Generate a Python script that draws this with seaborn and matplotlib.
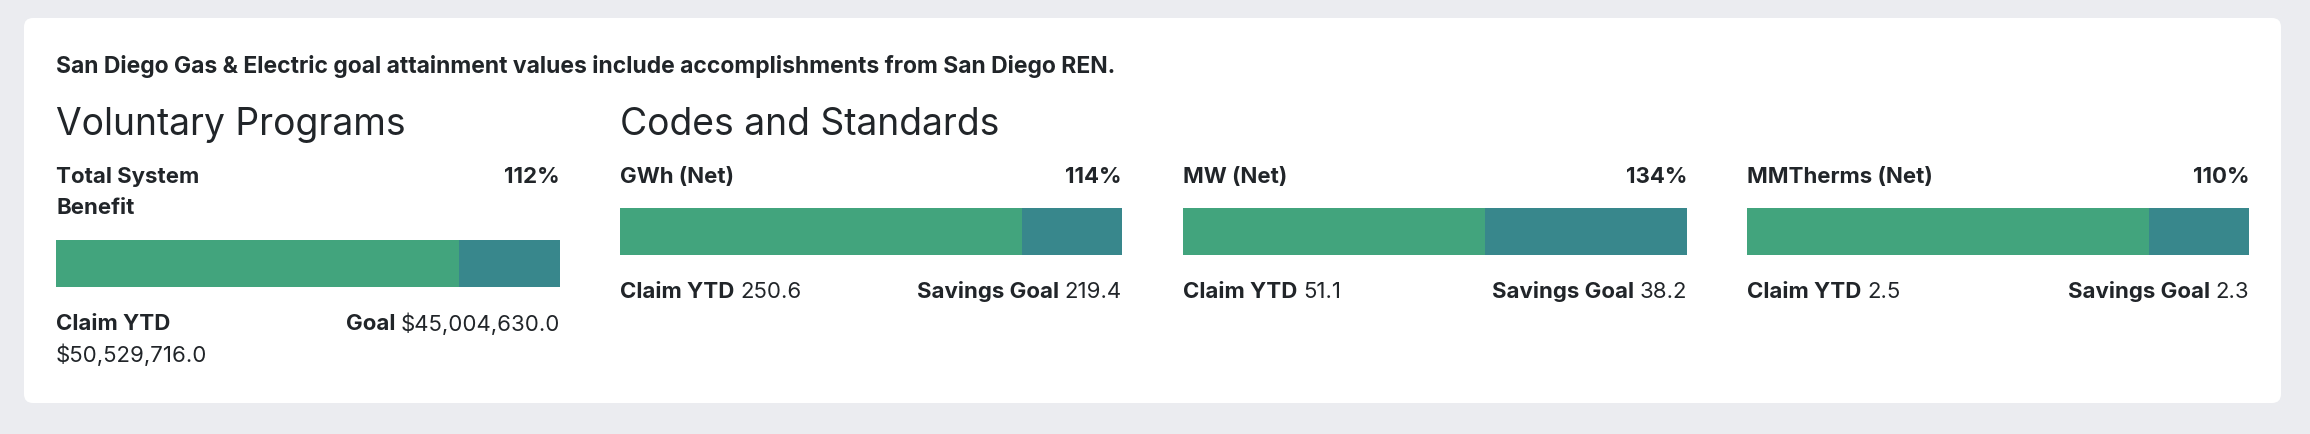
import seaborn as sns
import pandas as pd
import matplotlib.pyplot as plt
from matplotlib.patches import FancyBboxPatch

note = "San Diego Gas & Electric goal attainment values include accomplishments from San Diego REN."
sections = ["Voluntary Programs", "Codes and Standards"]
metrics = ["Total System\nBenefit", "GWh (Net)", "MW (Net)", "MMTherms (Net)"]
attainment = ["112%", "114%", "134%", "110%"]
claim_ytd = ["$50,529,716.0", "250.6", "51.1", "2.5"]
goal_names = ["Goal", "Savings Goal", "Savings Goal", "Savings Goal"]
goal_values = ["$45,004,630.0", "219.4", "38.2", "2.3"]
# share of each bar drawn green (rest teal), as seen in the picture
green_share = [80, 80, 60, 80]

GREEN = "#42a47d"
TEAL = "#38878c"
INK = "#212529"
BG = "#ebecf0"
FS = 16  # small text size

sns.set_theme(style="white")
plt.rcParams["font.family"] = ["Inter", "DejaVu Sans"]

W, H = 2310, 434
fig = plt.figure(figsize=(W / 100, H / 100), dpi=100, facecolor=BG)

# full-figure axes in pixel units for the card and the text
base = fig.add_axes([0, 0, 1, 1])
base.set_xlim(0, W)
base.set_ylim(H, 0)
base.axis("off")
base.add_patch(FancyBboxPatch((24, 18), 2257, 385,
                              boxstyle="round,pad=0,rounding_size=9",
                              facecolor="white", edgecolor="none"))

base.text(56, 66, note, fontsize=16.5, fontweight="bold", color=INK, va="center")
base.text(56, 125, sections[0], fontsize=26.8, color=INK, va="center")
base.text(620, 125, sections[1], fontsize=26.8, color=INK, va="center")

# card columns: left edge, right edge, label row, bar top, bar bottom, claim row
columns = [
    (56, 560, 177, 240, 287, 324),
    (620, 1122, 177, 208, 255, 292),
    (1183, 1687, 177, 208, 255, 292),
    (1747, 2249, 177, 208, 255, 292),
]

for i, (x0, x1, ylab, ytop, ybot, yclaim) in enumerate(columns):
    # metric name (may wrap) and percentage
    for k, line in enumerate(metrics[i].split("\n")):
        base.text(x0, ylab + 31 * k, line, fontsize=FS, fontweight="bold",
                  color=INK, va="center")
    base.text(x1, ylab, attainment[i], fontsize=FS, fontweight="bold", color=INK,
              va="center", ha="right")

    # stacked progress bar
    ax = fig.add_axes([x0 / W, 1 - ybot / H, (x1 - x0) / W, (ybot - ytop) / H])
    df = pd.DataFrame({"row": ["bar"], "total": [100], "claim": [green_share[i]]})
    sns.barplot(data=df, x="total", y="row", color=TEAL, width=1, orient="h",
                ax=ax, saturation=1, linewidth=0, edgecolor="none")
    sns.barplot(data=df, x="claim", y="row", color=GREEN, width=1, orient="h",
                ax=ax, saturation=1, linewidth=0, edgecolor="none")
    ax.set_xlim(0, 100)
    ax.set_ylim(0.5, -0.5)
    ax.axis("off")

    # claim and goal texts
    lab = base.text(x0, yclaim, "Claim YTD", fontsize=FS, fontweight="bold",
                    color=INK, va="center")
    if i == 0:
        base.text(x0, yclaim + 31, claim_ytd[i], fontsize=FS, color=INK, va="center")
    else:
        base.annotate(claim_ytd[i], xy=(1, 0.5), xycoords=lab, xytext=(4, 0),
                      textcoords="offset points", fontsize=FS, color=INK,
                      va="center", ha="left")
    val = base.text(x1, yclaim, goal_values[i], fontsize=FS, color=INK,
                    va="center", ha="right")
    base.annotate(goal_names[i], xy=(0, 0.5), xycoords=val, xytext=(-4, 0),
                  textcoords="offset points", fontsize=FS, fontweight="bold",
                  color=INK, va="center", ha="right")

fig.savefig("out.png", dpi=100, facecolor=BG)
